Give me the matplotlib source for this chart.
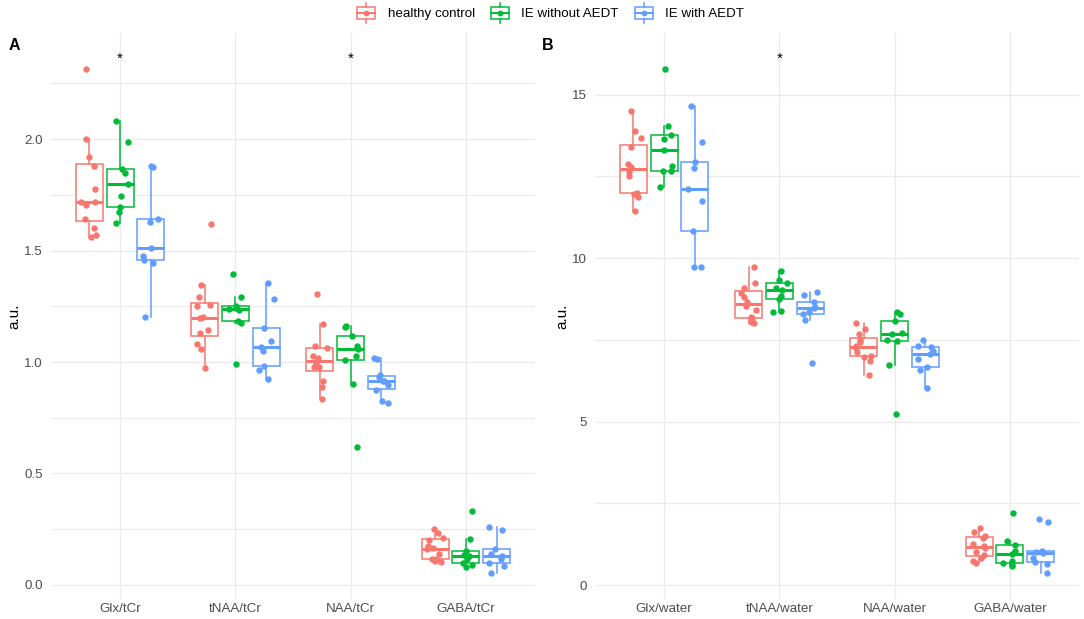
import numpy as np
import matplotlib.pyplot as plt
from matplotlib.legend_handler import HandlerBase
from matplotlib.patches import Rectangle
from matplotlib.lines import Line2D

plt.rcParams['font.family'] = ['Liberation Sans', 'DejaVu Sans']

groups = ["healthy control", "IE without AEDT", "IE with AEDT"]
colors = ["#F8766D", "#00BA38", "#619CFF"]

cats_a = ["Glx/tCr", "tNAA/tCr", "NAA/tCr", "GABA/tCr"]
cats_b = ["Glx/water", "tNAA/water", "NAA/water", "GABA/water"]
sig_a = ["Glx/tCr", "NAA/tCr"]
sig_b = ["tNAA/water"]

# panel A  (ratio to tCr)
glx_tcr_hc = [1.562, 1.570, 1.600, 1.644, 1.704, 1.716, 1.720, 1.776, 1.879, 1.918, 2.003, 2.317]
glx_tcr_ie = [1.626, 1.673, 1.696, 1.746, 1.801, 1.846, 1.864, 1.987, 2.081]
glx_tcr_aedt = [1.203, 1.445, 1.457, 1.475, 1.510, 1.629, 1.644, 1.873, 1.879]

tnaa_tcr_hc = [0.972, 1.057, 1.081, 1.129, 1.143, 1.199, 1.200, 1.250, 1.256, 1.290, 1.345, 1.620]
tnaa_tcr_ie = [0.991, 1.176, 1.182, 1.233, 1.236, 1.241, 1.251, 1.290, 1.395]
tnaa_tcr_aedt = [0.922, 0.965, 0.982, 1.051, 1.066, 1.094, 1.151, 1.283, 1.353]

naa_tcr_hc = [0.833, 0.887, 0.915, 0.976, 0.979, 0.990, 1.017, 1.027, 1.061, 1.073, 1.169, 1.305]
naa_tcr_ie = [0.620, 0.901, 1.009, 1.027, 1.057, 1.072, 1.117, 1.158, 1.161]
naa_tcr_aedt = [0.815, 0.825, 0.874, 0.897, 0.915, 0.916, 0.934, 0.940, 1.015, 1.018]

gaba_tcr_hc = [0.104, 0.108, 0.115, 0.117, 0.139, 0.160, 0.166, 0.175, 0.202, 0.209, 0.232, 0.250]
gaba_tcr_ie = [0.079, 0.090, 0.100, 0.115, 0.130, 0.135, 0.151, 0.205, 0.330]
gaba_tcr_aedt = [0.052, 0.085, 0.097, 0.118, 0.130, 0.140, 0.163, 0.244, 0.261]

# panel B  (ratio to water)
glx_w_hc = [11.45, 11.88, 11.97, 12.00, 12.51, 12.64, 12.80, 12.87, 13.40, 13.68, 13.89, 14.50]
glx_w_ie = [12.18, 12.66, 12.66, 12.82, 13.30, 13.63, 13.78, 14.05, 15.80]
glx_w_aedt = [9.72, 9.73, 10.83, 11.74, 12.10, 12.77, 12.93, 13.56, 14.65]

tnaa_w_hc = [8.02, 8.05, 8.16, 8.19, 8.41, 8.55, 8.67, 8.80, 8.94, 9.10, 9.23, 9.72]
tnaa_w_ie = [8.36, 8.39, 8.74, 8.85, 9.02, 9.10, 9.23, 9.33, 9.61]
tnaa_w_aedt = [6.80, 8.10, 8.29, 8.36, 8.48, 8.51, 8.65, 8.87, 8.97]

naa_w_hc = [6.44, 6.86, 6.98, 7.00, 7.13, 7.24, 7.30, 7.44, 7.50, 7.67, 7.82, 8.02]
naa_w_ie = [5.23, 6.72, 7.46, 7.51, 7.68, 7.70, 8.08, 8.28, 8.34]
naa_w_aedt = [6.02, 6.57, 6.66, 6.93, 7.06, 7.15, 7.29, 7.31, 7.51]

gaba_w_hc = [0.66, 0.75, 0.82, 0.92, 1.02, 1.12, 1.18, 1.25, 1.45, 1.50, 1.62, 1.76]
gaba_w_ie = [0.58, 0.61, 0.66, 0.74, 0.94, 1.05, 1.21, 1.35, 2.19]
gaba_w_aedt = [0.36, 0.64, 0.70, 0.82, 0.97, 1.00, 1.05, 1.94, 2.02]

panel_a = [[glx_tcr_hc, glx_tcr_ie, glx_tcr_aedt],
           [tnaa_tcr_hc, tnaa_tcr_ie, tnaa_tcr_aedt],
           [naa_tcr_hc, naa_tcr_ie, naa_tcr_aedt],
           [gaba_tcr_hc, gaba_tcr_ie, gaba_tcr_aedt]]
panel_b = [[glx_w_hc, glx_w_ie, glx_w_aedt],
           [tnaa_w_hc, tnaa_w_ie, tnaa_w_aedt],
           [naa_w_hc, naa_w_ie, naa_w_aedt],
           [gaba_w_hc, gaba_w_ie, gaba_w_aedt]]

W, H = 1084, 619
fig = plt.figure(figsize=(W / 100, H / 100), dpi=100)
rng = np.random.default_rng(7)  # horizontal jitter only
dodge = 0.267
box_w = 0.235
grid_c = "#EBEBEB"
text_c = "#4D4D4D"


def draw_panel(ax, cats, data, sig, ticks, fmt):
    allv = np.concatenate([np.concatenate(d) for d in data])
    star_y = allv.max() * 1.019
    lo, hi = allv.min(), star_y
    pad = 0.05 * (hi - lo)
    ax.set_ylim(lo - pad, hi + pad)
    ax.set_xlim(0.4, len(cats) + 0.6)

    # grid like theme_minimal
    step = ticks[1] - ticks[0]
    for t in ticks:
        ax.axhline(t, color=grid_c, lw=1.0, zorder=0)
        ax.axhline(t + step / 2, color=grid_c, lw=0.9, zorder=0)
    for i in range(len(cats)):
        ax.axvline(i + 1, color=grid_c, lw=1.0, zorder=0)

    for i, cat in enumerate(cats):
        for g in range(3):
            vals = np.asarray(data[i][g])
            pos = i + 1 + (g - 1) * dodge
            c = colors[g]
            bp = ax.boxplot(vals, positions=[pos], widths=box_w, patch_artist=True,
                            showfliers=False, showcaps=False, manage_ticks=False,
                            boxprops=dict(facecolor='white', edgecolor=c, lw=1.1),
                            whiskerprops=dict(color=c, lw=1.1),
                            medianprops=dict(color=c, lw=2.2))
            for art in bp['boxes'] + bp['whiskers'] + bp['medians']:
                art.set_zorder(2)
            xj = pos + rng.uniform(-0.07, 0.07, len(vals))
            ax.plot(xj, vals, 'o', color=c, ms=4.6, mec='none', zorder=3)
        if cat in sig:
            ax.text(i + 1, star_y, "*", ha='center', va='center', fontsize=11, color='black')

    ax.set_xticks(range(1, len(cats) + 1))
    ax.set_xticklabels(cats)
    ax.set_yticks(ticks)
    ax.set_yticklabels([fmt.format(t) for t in ticks])
    ax.tick_params(axis='x', length=0, labelsize=9.6, labelcolor=text_c, pad=3)
    ax.tick_params(axis='y', length=0, labelsize=9.6, labelcolor=text_c, pad=6)
    for s in ax.spines.values():
        s.set_visible(False)
    ax.set_ylabel("a.u.", fontsize=11, labelpad=2)


ax_a = fig.add_axes([51 / W, 20 / H, 484 / W, 566 / H])
ax_b = fig.add_axes([595 / W, 20 / H, 484 / W, 566 / H])
draw_panel(ax_a, cats_a, panel_a, sig_a, [0.0, 0.5, 1.0, 1.5, 2.0], "{:.1f}")
draw_panel(ax_b, cats_b, panel_b, sig_b, [0, 5, 10, 15], "{:.0f}")

fig.text(14 / W, 1 - 46 / H, "A", fontsize=11.5, fontweight='bold', ha='center', va='center')
fig.text(548 / W, 1 - 46 / H, "B", fontsize=11.5, fontweight='bold', ha='center', va='center')


class BoxKey(HandlerBase):
    def create_artists(self, legend, orig, xdescent, ydescent, w, h, fontsize, trans):
        c = orig.get_color()
        x0, y0 = -xdescent, -ydescent
        cx, cy = x0 + w / 2, y0 + h / 2
        bw, bh = w * 0.85, h * 0.55
        rect = Rectangle((cx - bw / 2, cy - bh / 2), bw, bh, facecolor='white',
                         edgecolor=c, lw=1.1, transform=trans)
        med = Line2D([cx - bw / 2, cx + bw / 2], [cy, cy], color=c, lw=1.4, transform=trans)
        wt = Line2D([cx, cx], [cy + bh / 2, y0 + h], color=c, lw=1.1, transform=trans)
        wb = Line2D([cx, cx], [y0, cy - bh / 2], color=c, lw=1.1, transform=trans)
        dot = Line2D([cx], [cy], marker='o', ms=4.2, color=c, mec='none', transform=trans)
        return [rect, med, wt, wb, dot]


handles = [Line2D([], [], color=c) for c in colors]
fig.legend(handles=handles, labels=groups, loc='center', ncol=3, frameon=False,
           bbox_to_anchor=(550 / W, 1 - 13 / H), handler_map={Line2D: BoxKey()},
           handlelength=1.6, handleheight=2.0, handletextpad=0.8, columnspacing=1.1,
           fontsize=9.6)

fig.savefig("out.png", dpi=100)
